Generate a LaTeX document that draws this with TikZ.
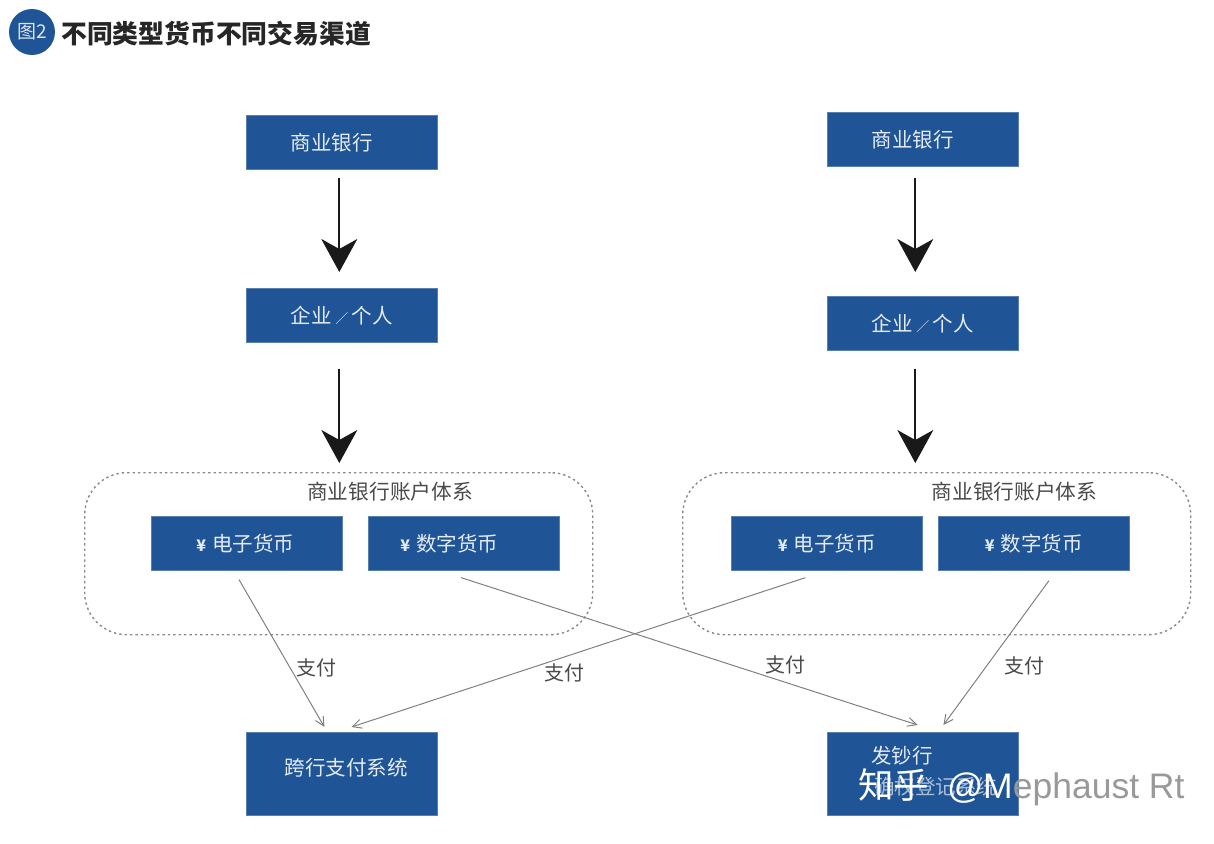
\documentclass[tikz,border=0pt]{standalone}
\usepackage{fontspec}
\setmainfont{Noto Sans CJK SC}
\newfontfamily\latinwm{Liberation Sans}
\usetikzlibrary{arrows.meta,calc}
\definecolor{bankblue}{HTML}{1F5496}
\definecolor{labelgray}{HTML}{4A4A4A}
\definecolor{dotgray}{HTML}{8A8A8A}
\newcommand{\boxtext}[2]{\raisebox{1.5pt}{\hspace*{#1pt}#2}}
\newcommand{\yensign}{{\fontsize{16}{18}\selectfont\bfseries ¥}\hspace{.3em}}
\newcommand{\smallslash}{\hspace{3.5pt}{\fontsize{13}{18}\selectfont ／}\hspace{3.5pt}}
\tikzset{
  x=1pt,y=-1pt,
  bluebox/.style={fill=bankblue,draw=bankblue!75!white,line width=.6pt,text=white!88!bankblue,minimum width=191pt,minimum height=54pt,inner sep=0pt,font=\fontsize{20.5}{24}\selectfont,anchor=north west},
  groupbox/.style={draw=dotgray,dash pattern=on 2.4pt off 3pt,line width=1.4pt,rounded corners=42pt,minimum width=508pt,minimum height=162pt,inner sep=0pt,anchor=north west},
  biglink/.style={draw=black!90,line width=1.7pt,-{Stealth[length=33pt,width=36pt,inset=10pt]}},
  paylink/.style={draw=black!50,line width=1pt,-{Straight Barb[length=9pt,width=9pt]}},
  paylabel/.style={text=labelgray,font=\fontsize{20}{24}\selectfont,inner sep=0pt},
  grouplabel/.style={text=labelgray,font=\fontsize{20.7}{24}\selectfont,inner sep=0pt},
  boxlabel/.style={text=white!88!bankblue,inner sep=0pt,font=\fontsize{20.5}{24}\selectfont},
}
\begin{document}
\begin{tikzpicture}
\useasboundingbox (0,0) rectangle (1214,843);
% title
\node[circle,fill=bankblue,minimum size=46pt,inner sep=0pt,text=white!85!bankblue,font=\fontsize{19}{20}\selectfont] (badge) at (32,32) {图2};
\node[anchor=west,inner sep=0pt,text=black!85,font=\fontsize{25.8}{28}\selectfont\bfseries] (title) at (61,33.5) {不同类型货币不同交易渠道};
% left column
\node[bluebox] (bankL) at (246,115) {\boxtext{-20}{商业银行}};
\node[bluebox] (entL) at (246,288) {\boxtext{0}{企业\smallslash 个人}};
\node[groupbox] (groupL) at (84,472) {};
\node[grouplabel] (gtL) at (390,492) {商业银行账户体系};
\node[bluebox] (eL) at (151,516) {\boxtext{-3}{\yensign 电子货币}};
\node[bluebox] (dL) at (367.5,516) {\boxtext{-28}{\yensign 数字货币}};
\node[bluebox,minimum height=83pt] (pay) at (246,732) {};
\node[boxlabel] (payt) at (346,768) {跨行支付系统};
% right column
\node[bluebox] (bankR) at (827,112) {\boxtext{-20}{商业银行}};
\node[bluebox] (entR) at (827,296) {\boxtext{0}{企业\smallslash 个人}};
\node[groupbox] (groupR) at (682,472) {};
\node[grouplabel] (gtR) at (1014.5,492) {商业银行账户体系};
\node[bluebox] (eR) at (731,516) {\boxtext{0}{\yensign 电子货币}};
\node[bluebox] (dR) at (938,516) {\boxtext{0}{\yensign 数字货币}};
\node[bluebox,minimum height=83pt] (iss) at (827,732) {};
\node[boxlabel] (isst) at (902,756) {发钞行};
\node[boxlabel,text=white!62!bankblue] (isst2) at (935.5,787) {确权登记系统};
% big arrows
\draw[biglink,shorten <=8pt,shorten >=16pt] ([xshift=-2.5pt]bankL.south) -- ([xshift=-2.5pt]entL.north);
\draw[biglink,shorten <=26pt,shorten >=9pt] ([xshift=-2.5pt]entL.south) -- ([xshift=-2.5pt]entL.south |- groupL.north);
\draw[biglink,shorten <=11pt,shorten >=24pt] ([xshift=-7.5pt]bankR.south) -- ([xshift=-7.5pt]entR.north);
\draw[biglink,shorten <=18pt,shorten >=9pt] ([xshift=-7.5pt]entR.south) -- ([xshift=-7.5pt]entR.south |- groupR.north);
% payment links
\draw[paylink,shorten <=10.4pt,shorten >=5.8pt] ([xshift=-13pt]eL.south) -- ([xshift=-14.5pt]pay.north);
\draw[paylink,shorten <=22.5pt,shorten >=16pt] (eR.south) -- ([xshift=-5.5pt]pay.north);
\draw[paylink,shorten <=22.8pt,shorten >=22.8pt] ([xshift=-24pt]dL.south) -- ([xshift=16.5pt]iss.north);
\draw[paylink,shorten <=12.4pt,shorten >=8.7pt] ([xshift=22.5pt]dR.south) -- ([xshift=15.5pt]iss.north);
\node[paylabel] (p1) at (316,668) {支付};
\node[paylabel] (p2) at (564,673) {支付};
\node[paylabel] (p3) at (785,665) {支付};
\node[paylabel] (p4) at (1024,666) {支付};
% watermark
\node[anchor=west,inner sep=0pt,text=white,font=\fontsize{35.5}{40}\selectfont] (wm) at (858,787) {知乎\hspace{18pt}{\latinwm @M\textcolor{black!40}{ephaust Rt}}};
\end{tikzpicture}
\end{document}
